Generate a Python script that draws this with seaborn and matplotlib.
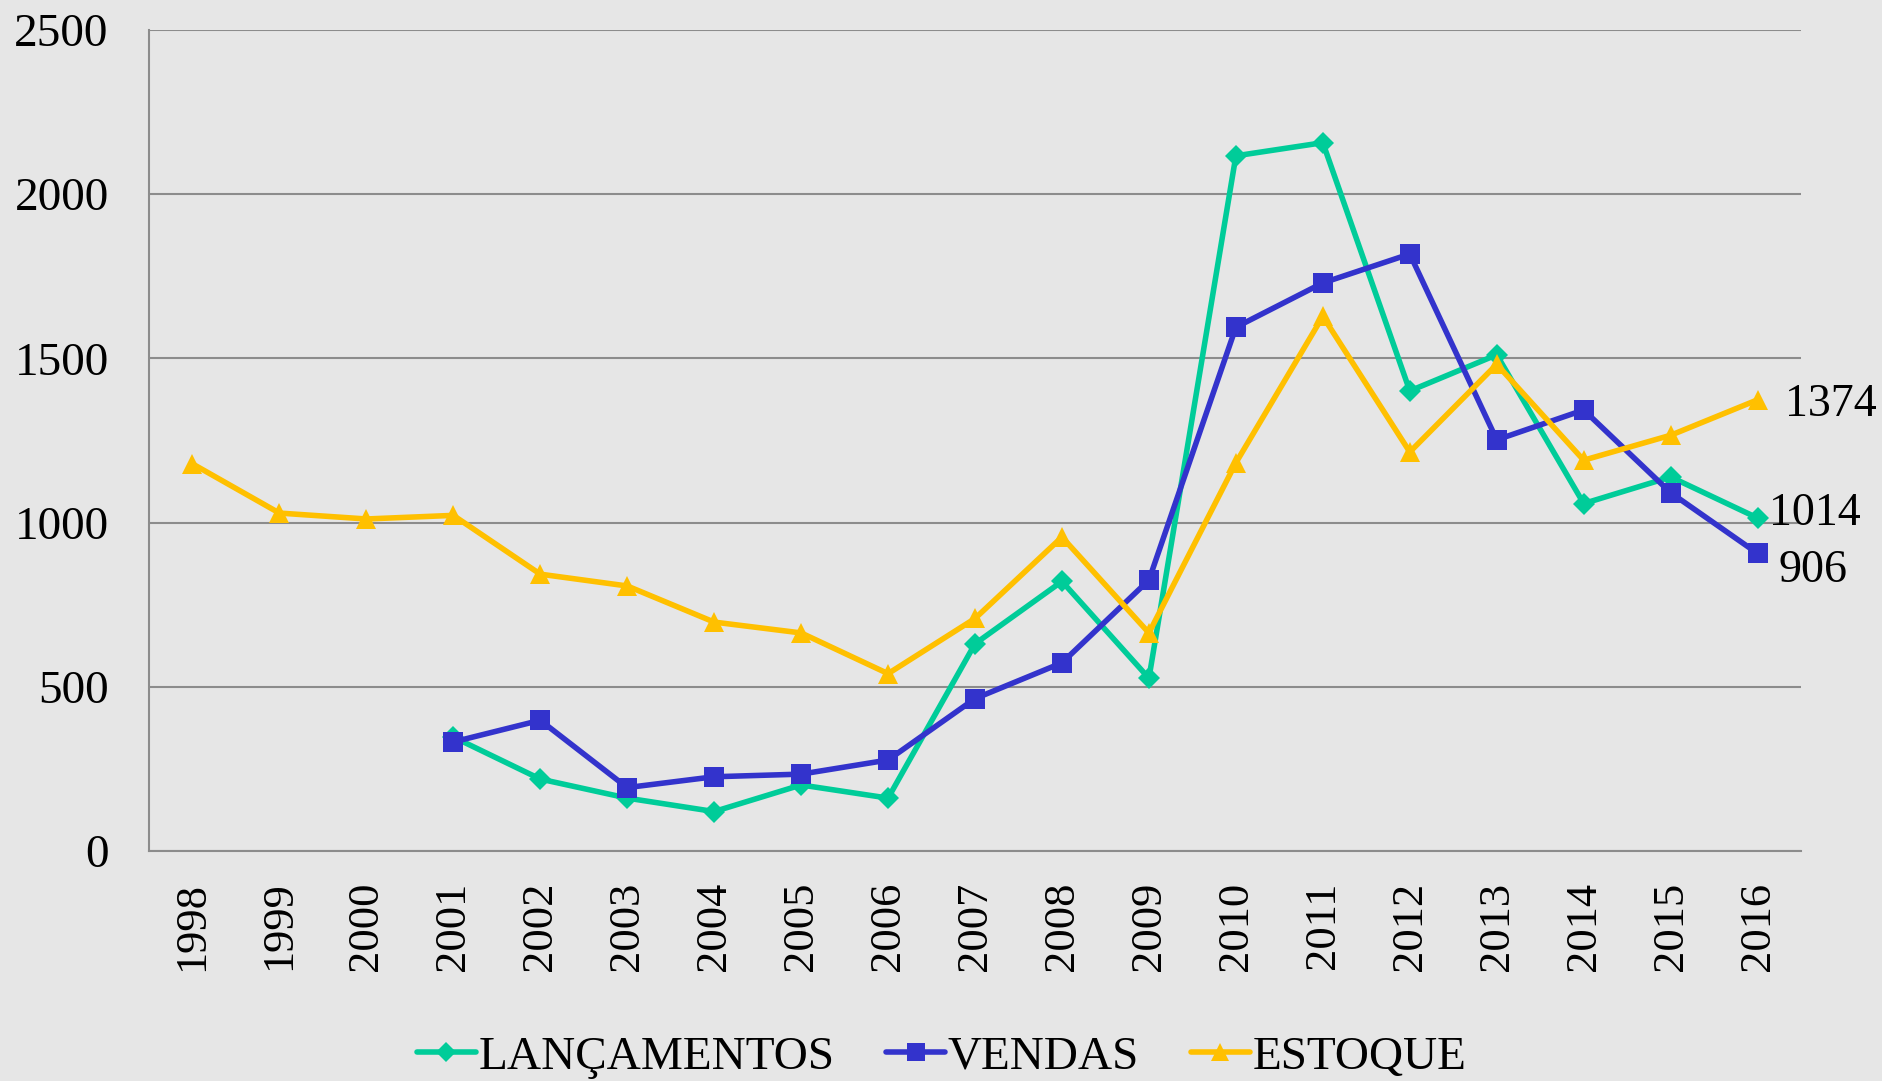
import numpy as np
import pandas as pd
import matplotlib
matplotlib.use("Agg")
import matplotlib.pyplot as plt
import seaborn as sns

years = [str(y) for y in range(1998, 2017)]
lancamentos = [np.nan, np.nan, np.nan, 347, 219, 161, 120, 201, 161, 631,
               821, 526, 2117, 2157, 1401, 1511, 1058, 1139, 1014]
vendas = [np.nan, np.nan, np.nan, 332, 398, 193, 226, 234, 277, 464,
          573, 825, 1595, 1730, 1818, 1252, 1343, 1091, 906]
estoque = [1179, 1029, 1011, 1022, 843, 807, 697, 664, 540, 708,
           956, 664, 1182, 1628, 1215, 1482, 1190, 1266, 1374]

series = ["LANÇAMENTOS", "VENDAS", "ESTOQUE"]
colors = {"LANÇAMENTOS": "#00CC99", "VENDAS": "#3333CC", "ESTOQUE": "#FFC000"}
markers = {"LANÇAMENTOS": "D", "VENDAS": "s", "ESTOQUE": "^"}
msizes = {"LANÇAMENTOS": 11, "VENDAS": 14, "ESTOQUE": 15}

df = pd.DataFrame({"pos": list(range(len(years))) * 3,
                   "valor": lancamentos + vendas + estoque,
                   "serie": [s for s in series for _ in years]})

sns.set_style("white")
plt.rcParams['font.family'] = ['Liberation Serif', 'DejaVu Serif']
plt.rcParams['axes.facecolor'] = '#E6E6E6'
plt.rcParams['figure.facecolor'] = '#E6E6E6'
plt.rcParams['text.color'] = 'black'
plt.rcParams['xtick.color'] = 'black'
plt.rcParams['ytick.color'] = 'black'

fig = plt.figure(figsize=(18.83, 10.81), dpi=100)
ax = fig.add_axes([0.0791, 0.2128, 0.8774, 0.7594])

for s in series:
    d = df[df.serie == s].dropna()
    sns.lineplot(data=d, x="pos", y="valor", ax=ax, color=colors[s], lw=4,
                 marker=markers[s], markersize=msizes[s], markeredgewidth=0,
                 label=s, legend=False)

grey = '#8C8C8C'
ax.set_ylim(0, 2500)
ax.set_xlim(-0.5, len(years) - 0.5)
ax.set_yticks([0, 500, 1000, 1500, 2000, 2500])
ax.yaxis.grid(True, color=grey, lw=1.5)
ax.set_axisbelow(True)
ax.set_xticks(range(len(years)))
ax.set_xticklabels(years, rotation=90, fontsize=32)
ax.set_xticks(np.arange(-0.5, len(years), 1), minor=True)
ax.tick_params(axis='x', which='major', length=0, pad=22)
ax.tick_params(axis='x', which='minor', length=10, width=1.5, color=grey)
ax.tick_params(axis='y', length=10, width=1.5, color=grey, labelcolor='black',
               labelsize=34, pad=19)
ax.set_xlabel("")
ax.set_ylabel("")
for side in ['top', 'right']:
    ax.spines[side].set_visible(False)
for side in ['left', 'bottom']:
    ax.spines[side].set_color(grey)
    ax.spines[side].set_linewidth(1.5)

# end labels
last = len(years) - 1
ax.annotate(str(estoque[-1]), (last, estoque[-1]), xytext=(20, 0), textcoords='offset points',
            va='center_baseline', ha='left', fontsize=33)
ax.annotate(str(lancamentos[-1]), (last, lancamentos[-1]), xytext=(8, 7), textcoords='offset points',
            va='center_baseline', ha='left', fontsize=33)
ax.annotate(str(vendas[-1]), (last, vendas[-1]), xytext=(15, -9), textcoords='offset points',
            va='center_baseline', ha='left', fontsize=33)

handles, labels = ax.get_legend_handles_labels()
fig.legend(handles, labels, loc='center', bbox_to_anchor=(0.5, 0.022), ncol=3,
           frameon=False, fontsize=34, handlelength=1.25, handletextpad=0.05,
           columnspacing=1.1, markerscale=0.9)

fig.savefig("out.png", dpi=100, facecolor='#E6E6E6')
